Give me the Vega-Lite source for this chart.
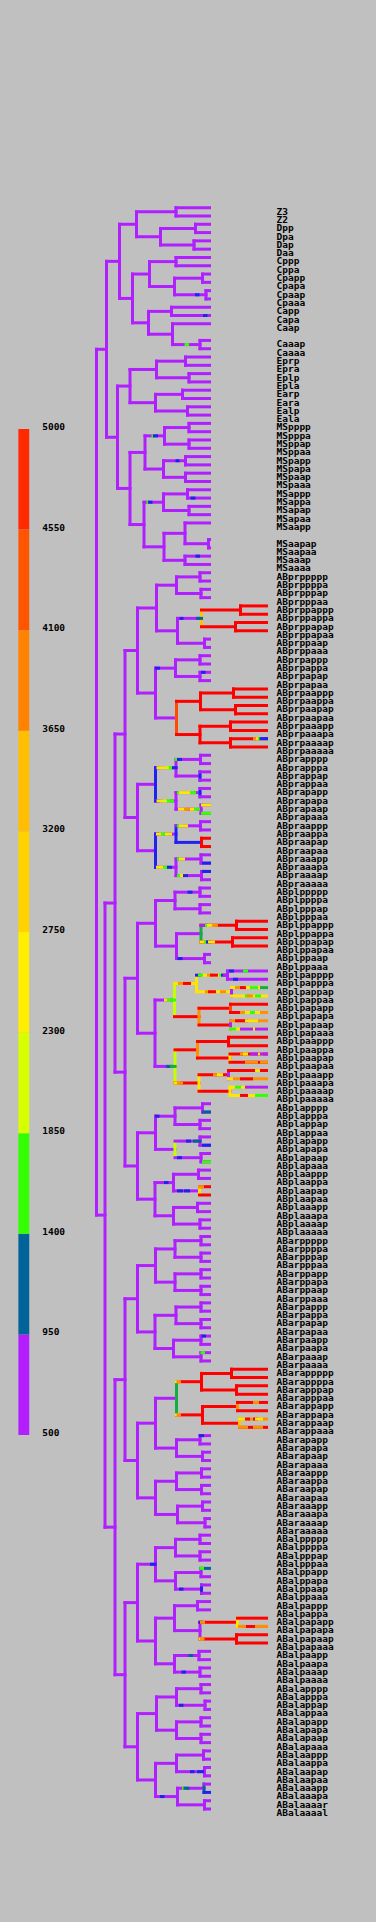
{
"$schema": "https://vega.github.io/schema/vega-lite/v6.json",
"background": "#c0c0c0",
"padding": 0,
"spacing": 0,
"resolve": {"scale": {"color": "independent"}},
"config": {"view": {"stroke": null}},
"datasets": {
"bands": [
{"lo":500,"hi":950},{"lo":950,"hi":1400},{"lo":1400,"hi":1850},{"lo":1850,"hi":2300},{"lo":2300,"hi":2750},
{"lo":2750,"hi":3200},{"lo":3200,"hi":3650},{"lo":3650,"hi":4100},{"lo":4100,"hi":4550},{"lo":4550,"hi":5000}],
"ticks": [{"v":500},{"v":950},{"v":1400},{"v":1850},{"v":2300},{"v":2750},{"v":3200},{"v":3650},{"v":4100},{"v":4550},{"v":5000}],
"labels": [
{"name":"Z3","slot":0},{"name":"Z2","slot":1},{"name":"Dpp","slot":2},{"name":"Dpa","slot":3},{"name":"Dap","slot":4},{"name":"Daa","slot":5},
{"name":"Cppp","slot":6},{"name":"Cppa","slot":7},{"name":"Cpapp","slot":8},{"name":"Cpapa","slot":9},{"name":"Cpaap","slot":10},{"name":"Cpaaa","slot":11},
{"name":"Capp","slot":12},{"name":"Capa","slot":13},{"name":"Caap","slot":14},{"name":"Caaap","slot":16},{"name":"Caaaa","slot":17},
{"name":"Eprp","slot":18},{"name":"Epra","slot":19},{"name":"Eplp","slot":20},{"name":"Epla","slot":21},{"name":"Earp","slot":22},{"name":"Eara","slot":23},{"name":"Ealp","slot":24},{"name":"Eala","slot":25},
{"name":"MSpppp","slot":26},{"name":"MSpppa","slot":27},{"name":"MSppap","slot":28},{"name":"MSppaa","slot":29},{"name":"MSpapp","slot":30},{"name":"MSpapa","slot":31},{"name":"MSpaap","slot":32},{"name":"MSpaaa","slot":33},
{"name":"MSappp","slot":34},{"name":"MSappa","slot":35},{"name":"MSapap","slot":36},{"name":"MSapaa","slot":37},{"name":"MSaapp","slot":38},{"name":"MSaapap","slot":40},{"name":"MSaapaa","slot":41},{"name":"MSaaap","slot":42},{"name":"MSaaaa","slot":43},
{"name":"ABprppppp","slot":44},{"name":"ABprppppa","slot":45},{"name":"ABprpppap","slot":46},{"name":"ABprpppaa","slot":47},{"name":"ABprppappp","slot":48},{"name":"ABprppappa","slot":49},{"name":"ABprppapap","slot":50},{"name":"ABprppapaa","slot":51},
{"name":"ABprppaap","slot":52},{"name":"ABprppaaa","slot":53},{"name":"ABprpappp","slot":54},{"name":"ABprpappa","slot":55},{"name":"ABprpapap","slot":56},{"name":"ABprpapaa","slot":57},
{"name":"ABprpaappp","slot":58},{"name":"ABprpaappa","slot":59},{"name":"ABprpaapap","slot":60},{"name":"ABprpaapaa","slot":61},{"name":"ABprpaaapp","slot":62},{"name":"ABprpaaapa","slot":63},{"name":"ABprpaaaap","slot":64},{"name":"ABprpaaaaa","slot":65},
{"name":"ABprapppp","slot":66},{"name":"ABprapppa","slot":67},{"name":"ABprappap","slot":68},{"name":"ABprappaa","slot":69},{"name":"ABprapapp","slot":70},{"name":"ABprapapa","slot":71},{"name":"ABprapaap","slot":72},{"name":"ABprapaaa","slot":73},
{"name":"ABpraappp","slot":74},{"name":"ABpraappa","slot":75},{"name":"ABpraapap","slot":76},{"name":"ABpraapaa","slot":77},{"name":"ABpraaapp","slot":78},{"name":"ABpraaapa","slot":79},{"name":"ABpraaaap","slot":80},{"name":"ABpraaaaa","slot":81},
{"name":"ABplppppp","slot":82},{"name":"ABplppppa","slot":83},{"name":"ABplpppap","slot":84},{"name":"ABplpppaa","slot":85},{"name":"ABplppappp","slot":86},{"name":"ABplppappa","slot":87},{"name":"ABplppapap","slot":88},{"name":"ABplppapaa","slot":89},
{"name":"ABplppaap","slot":90},{"name":"ABplppaaa","slot":91},{"name":"ABplpapppp","slot":92},{"name":"ABplpapppa","slot":93},{"name":"ABplpappap","slot":94},{"name":"ABplpappaa","slot":95},{"name":"ABplpapapp","slot":96},{"name":"ABplpapapa","slot":97},
{"name":"ABplpapaap","slot":98},{"name":"ABplpapaaa","slot":99},{"name":"ABplpaappp","slot":100},{"name":"ABplpaappa","slot":101},{"name":"ABplpaapap","slot":102},{"name":"ABplpaapaa","slot":103},{"name":"ABplpaaapp","slot":104},{"name":"ABplpaaapa","slot":105},
{"name":"ABplpaaaap","slot":106},{"name":"ABplpaaaaa","slot":107},{"name":"ABplapppp","slot":108},{"name":"ABplapppa","slot":109},{"name":"ABplappap","slot":110},{"name":"ABplappaa","slot":111},{"name":"ABplapapp","slot":112},{"name":"ABplapapa","slot":113},
{"name":"ABplapaap","slot":114},{"name":"ABplapaaa","slot":115},{"name":"ABplaappp","slot":116},{"name":"ABplaappa","slot":117},{"name":"ABplaapap","slot":118},{"name":"ABplaapaa","slot":119},{"name":"ABplaaapp","slot":120},{"name":"ABplaaapa","slot":121},
{"name":"ABplaaaap","slot":122},{"name":"ABplaaaaa","slot":123},
{"name":"ABarppppp","slot":124},{"name":"ABarppppa","slot":125},{"name":"ABarpppap","slot":126},{"name":"ABarpppaa","slot":127},{"name":"ABarppapp","slot":128},{"name":"ABarppapa","slot":129},{"name":"ABarppaap","slot":130},{"name":"ABarppaaa","slot":131},
{"name":"ABarpappp","slot":132},{"name":"ABarpappa","slot":133},{"name":"ABarpapap","slot":134},{"name":"ABarpapaa","slot":135},{"name":"ABarpaapp","slot":136},{"name":"ABarpaapa","slot":137},{"name":"ABarpaaap","slot":138},{"name":"ABarpaaaa","slot":139},
{"name":"ABarappppp","slot":140},{"name":"ABarappppa","slot":141},{"name":"ABarapppap","slot":142},{"name":"ABarapppaa","slot":143},{"name":"ABarappapp","slot":144},{"name":"ABarappapa","slot":145},{"name":"ABarappaap","slot":146},{"name":"ABarappaaa","slot":147},
{"name":"ABarapapp","slot":148},{"name":"ABarapapa","slot":149},{"name":"ABarapaap","slot":150},{"name":"ABarapaaa","slot":151},{"name":"ABaraappp","slot":152},{"name":"ABaraappa","slot":153},{"name":"ABaraapap","slot":154},{"name":"ABaraapaa","slot":155},
{"name":"ABaraaapp","slot":156},{"name":"ABaraaapa","slot":157},{"name":"ABaraaaap","slot":158},{"name":"ABaraaaaa","slot":159},
{"name":"ABalppppp","slot":160},{"name":"ABalppppa","slot":161},{"name":"ABalpppap","slot":162},{"name":"ABalpppaa","slot":163},{"name":"ABalppapp","slot":164},{"name":"ABalppapa","slot":165},{"name":"ABalppaap","slot":166},{"name":"ABalppaaa","slot":167},
{"name":"ABalpappp","slot":168},{"name":"ABalpappa","slot":169},{"name":"ABalpapapp","slot":170},{"name":"ABalpapapa","slot":171},{"name":"ABalpapaap","slot":172},{"name":"ABalpapaaa","slot":173},{"name":"ABalpaapp","slot":174},{"name":"ABalpaapa","slot":175},
{"name":"ABalpaaap","slot":176},{"name":"ABalpaaaa","slot":177},{"name":"ABalapppp","slot":178},{"name":"ABalapppa","slot":179},{"name":"ABalappap","slot":180},{"name":"ABalappaa","slot":181},{"name":"ABalapapp","slot":182},{"name":"ABalapapa","slot":183},
{"name":"ABalapaap","slot":184},{"name":"ABalapaaa","slot":185},{"name":"ABalaappp","slot":186},{"name":"ABalaappa","slot":187},{"name":"ABalaapap","slot":188},{"name":"ABalaapaa","slot":189},{"name":"ABalaaapp","slot":190},{"name":"ABalaaapa","slot":191},
{"name":"ABalaaaar","slot":192},{"name":"ABalaaaal","slot":193}],
"tree": [
{"x":0,"x2":0,"y":17.07,"y2":121.42,"c":"p"},
{"x":0,"x2":10,"y":17.07,"y2":17.07,"c":"p"},
{"x":10,"x2":10,"y":6.469,"y2":27.67,"c":"p"},
{"x":10,"x2":23,"y":6.469,"y2":6.469,"c":"p"},
{"x":23,"x2":23,"y":2,"y2":10.9375,"c":"p"},
{"x":23,"x2":40,"y":2,"y2":2,"c":"p"},
{"x":40,"x2":40,"y":0.5,"y2":3.5,"c":"p"},
{"x":40,"x2":79.5,"y":0.5,"y2":0.5,"c":"p"},
{"x":79.5,"x2":79.5,"y":0,"y2":1,"c":"p"},
{"x":79.5,"x2":113,"y":0,"y2":0,"c":"p"},
{"x":79.5,"x2":113,"y":1,"y2":1,"c":"p"},
{"x":40,"x2":64,"y":3.5,"y2":3.5,"c":"p"},
{"x":64,"x2":64,"y":2.5,"y2":4.5,"c":"p"},
{"x":64,"x2":99,"y":2.5,"y2":2.5,"c":"p"},
{"x":99,"x2":99,"y":2,"y2":3,"c":"p"},
{"x":99,"x2":113,"y":2,"y2":2,"c":"p"},
{"x":99,"x2":113,"y":3,"y2":3,"c":"p"},
{"x":64,"x2":97.5,"y":4.5,"y2":4.5,"c":"p"},
{"x":97.5,"x2":97.5,"y":4,"y2":5,"c":"p"},
{"x":97.5,"x2":113,"y":4,"y2":4,"c":"p"},
{"x":97.5,"x2":113,"y":5,"y2":5,"c":"p"},
{"x":23,"x2":36,"y":10.9375,"y2":10.9375,"c":"p"},
{"x":36,"x2":36,"y":8,"y2":13.875,"c":"p"},
{"x":36,"x2":53,"y":8,"y2":8,"c":"p"},
{"x":53,"x2":53,"y":6.5,"y2":9.5,"c":"p"},
{"x":53,"x2":79.5,"y":6.5,"y2":6.5,"c":"p"},
{"x":79.5,"x2":79.5,"y":6,"y2":7,"c":"p"},
{"x":79.5,"x2":113,"y":6,"y2":6,"c":"p"},
{"x":79.5,"x2":113,"y":7,"y2":7,"c":"p"},
{"x":53,"x2":78,"y":9.5,"y2":9.5,"c":"p"},
{"x":78,"x2":78,"y":8.5,"y2":10.5,"c":"p"},
{"x":78,"x2":106,"y":8.5,"y2":8.5,"c":"p"},
{"x":106,"x2":106,"y":8,"y2":9,"c":"p"},
{"x":106,"x2":113,"y":8,"y2":8,"c":"p"},
{"x":106,"x2":113,"y":9,"y2":9,"c":"p"},
{"x":78,"x2":109.5,"y":10.5,"y2":10.5,"c":"p"},
{"x":109.5,"x2":109.5,"y":10,"y2":11,"c":"p"},
{"x":109.5,"x2":113,"y":10,"y2":10,"c":"p"},
{"x":109.5,"x2":113,"y":11,"y2":11,"c":"p"},
{"x":36,"x2":52,"y":13.875,"y2":13.875,"c":"p"},
{"x":52,"x2":52,"y":12.5,"y2":15.25,"c":"p"},
{"x":52,"x2":75,"y":12.5,"y2":12.5,"c":"p"},
{"x":75,"x2":75,"y":12,"y2":13,"c":"p"},
{"x":75,"x2":113,"y":12,"y2":12,"c":"p"},
{"x":75,"x2":113,"y":13,"y2":13,"c":"p"},
{"x":52,"x2":76,"y":15.25,"y2":15.25,"c":"p"},
{"x":76,"x2":76,"y":14,"y2":16.5,"c":"p"},
{"x":76,"x2":113,"y":14,"y2":14,"c":"p"},
{"x":76,"x2":103.5,"y":16.5,"y2":16.5,"c":"p"},
{"x":103.5,"x2":103.5,"y":16,"y2":17,"c":"p"},
{"x":103.5,"x2":113,"y":16,"y2":16,"c":"p"},
{"x":103.5,"x2":113,"y":17,"y2":17,"c":"p"},
{"x":10,"x2":21,"y":27.67,"y2":27.67,"c":"p"},
{"x":21,"x2":21,"y":21.5,"y2":33.84,"c":"p"},
{"x":21,"x2":33.5,"y":21.5,"y2":21.5,"c":"p"},
{"x":33.5,"x2":33.5,"y":19.5,"y2":23.5,"c":"p"},
{"x":33.5,"x2":60,"y":19.5,"y2":19.5,"c":"p"},
{"x":60,"x2":60,"y":18.5,"y2":20.5,"c":"p"},
{"x":60,"x2":89,"y":18.5,"y2":18.5,"c":"p"},
{"x":89,"x2":89,"y":18,"y2":19,"c":"p"},
{"x":89,"x2":113,"y":18,"y2":18,"c":"p"},
{"x":89,"x2":113,"y":19,"y2":19,"c":"p"},
{"x":60,"x2":92.5,"y":20.5,"y2":20.5,"c":"p"},
{"x":92.5,"x2":92.5,"y":20,"y2":21,"c":"p"},
{"x":92.5,"x2":113,"y":20,"y2":20,"c":"p"},
{"x":92.5,"x2":113,"y":21,"y2":21,"c":"p"},
{"x":33.5,"x2":59,"y":23.5,"y2":23.5,"c":"p"},
{"x":59,"x2":59,"y":22.5,"y2":24.5,"c":"p"},
{"x":59,"x2":86,"y":22.5,"y2":22.5,"c":"p"},
{"x":86,"x2":86,"y":22,"y2":23,"c":"p"},
{"x":86,"x2":113,"y":22,"y2":22,"c":"p"},
{"x":86,"x2":113,"y":23,"y2":23,"c":"p"},
{"x":59,"x2":91,"y":24.5,"y2":24.5,"c":"p"},
{"x":91,"x2":91,"y":24,"y2":25,"c":"p"},
{"x":91,"x2":113,"y":24,"y2":24,"c":"p"},
{"x":91,"x2":113,"y":25,"y2":25,"c":"p"},
{"x":21,"x2":33.5,"y":33.84,"y2":33.84,"c":"p"},
{"x":33.5,"x2":33.5,"y":29.5,"y2":38.19,"c":"p"},
{"x":33.5,"x2":48.5,"y":29.5,"y2":29.5,"c":"p"},
{"x":48.5,"x2":48.5,"y":27.5,"y2":31.5,"c":"p"},
{"x":48.5,"x2":68,"y":27.5,"y2":27.5,"c":"p"},
{"x":68,"x2":68,"y":26.5,"y2":28.5,"c":"p"},
{"x":68,"x2":92.5,"y":26.5,"y2":26.5,"c":"p"},
{"x":92.5,"x2":92.5,"y":26,"y2":27,"c":"p"},
{"x":92.5,"x2":113,"y":26,"y2":26,"c":"p"},
{"x":92.5,"x2":113,"y":27,"y2":27,"c":"p"},
{"x":68,"x2":92.5,"y":28.5,"y2":28.5,"c":"p"},
{"x":92.5,"x2":92.5,"y":28,"y2":29,"c":"p"},
{"x":92.5,"x2":113,"y":28,"y2":28,"c":"p"},
{"x":92.5,"x2":113,"y":29,"y2":29,"c":"p"},
{"x":48.5,"x2":67,"y":31.5,"y2":31.5,"c":"p"},
{"x":67,"x2":67,"y":30.5,"y2":32.5,"c":"p"},
{"x":67,"x2":89,"y":30.5,"y2":30.5,"c":"p"},
{"x":89,"x2":89,"y":30,"y2":31,"c":"p"},
{"x":89,"x2":113,"y":30,"y2":30,"c":"p"},
{"x":89,"x2":113,"y":31,"y2":31,"c":"p"},
{"x":67,"x2":89,"y":32.5,"y2":32.5,"c":"p"},
{"x":89,"x2":89,"y":32,"y2":33,"c":"p"},
{"x":89,"x2":113,"y":32,"y2":32,"c":"p"},
{"x":89,"x2":113,"y":33,"y2":33,"c":"p"},
{"x":33.5,"x2":47.5,"y":38.19,"y2":38.19,"c":"p"},
{"x":47.5,"x2":47.5,"y":35.5,"y2":40.875,"c":"p"},
{"x":47.5,"x2":67,"y":35.5,"y2":35.5,"c":"p"},
{"x":67,"x2":67,"y":34.5,"y2":36.5,"c":"p"},
{"x":67,"x2":91,"y":34.5,"y2":34.5,"c":"p"},
{"x":91,"x2":91,"y":34,"y2":35,"c":"p"},
{"x":91,"x2":113,"y":34,"y2":34,"c":"p"},
{"x":91,"x2":113,"y":35,"y2":35,"c":"p"},
{"x":67,"x2":92.5,"y":36.5,"y2":36.5,"c":"p"},
{"x":92.5,"x2":92.5,"y":36,"y2":37,"c":"p"},
{"x":92.5,"x2":113,"y":36,"y2":36,"c":"p"},
{"x":92.5,"x2":113,"y":37,"y2":37,"c":"p"},
{"x":47.5,"x2":67.5,"y":40.875,"y2":40.875,"c":"p"},
{"x":67.5,"x2":67.5,"y":39.25,"y2":42.5,"c":"p"},
{"x":67.5,"x2":88.5,"y":39.25,"y2":39.25,"c":"p"},
{"x":88.5,"x2":88.5,"y":38,"y2":40.5,"c":"p"},
{"x":88.5,"x2":113,"y":38,"y2":38,"c":"p"},
{"x":88.5,"x2":112,"y":40.5,"y2":40.5,"c":"p"},
{"x":112,"x2":112,"y":40,"y2":41,"c":"p"},
{"x":112,"x2":113,"y":40,"y2":40,"c":"p"},
{"x":112,"x2":113,"y":41,"y2":41,"c":"p"},
{"x":67.5,"x2":88.5,"y":42.5,"y2":42.5,"c":"p"},
{"x":88.5,"x2":88.5,"y":42,"y2":43,"c":"p"},
{"x":88.5,"x2":113,"y":42,"y2":42,"c":"p"},
{"x":88.5,"x2":113,"y":43,"y2":43,"c":"p"},
{"x":0,"x2":8.5,"y":121.42,"y2":121.42,"c":"p"},
{"x":8.5,"x2":8.5,"y":83.81,"y2":159.03,"c":"p"},
{"x":8.5,"x2":18.5,"y":83.81,"y2":83.81,"c":"p"},
{"x":18.5,"x2":18.5,"y":63.44,"y2":104.19,"c":"p"},
{"x":18.5,"x2":28.5,"y":63.44,"y2":63.44,"c":"p"},
{"x":28.5,"x2":28.5,"y":53.375,"y2":73.5,"c":"p"},
{"x":28.5,"x2":41,"y":53.375,"y2":53.375,"c":"p"},
{"x":41,"x2":41,"y":48.25,"y2":58.5,"c":"p"},
{"x":41,"x2":60,"y":48.25,"y2":48.25,"c":"p"},
{"x":60,"x2":60,"y":45.5,"y2":51,"c":"p"},
{"x":60,"x2":80,"y":45.5,"y2":45.5,"c":"p"},
{"x":80,"x2":80,"y":44.5,"y2":46.5,"c":"p"},
{"x":80,"x2":103.5,"y":44.5,"y2":44.5,"c":"p"},
{"x":103.5,"x2":103.5,"y":44,"y2":45,"c":"p"},
{"x":103.5,"x2":113,"y":44,"y2":44,"c":"p"},
{"x":103.5,"x2":113,"y":45,"y2":45,"c":"p"},
{"x":80,"x2":104.5,"y":46.5,"y2":46.5,"c":"p"},
{"x":104.5,"x2":104.5,"y":46,"y2":47,"c":"p"},
{"x":104.5,"x2":113,"y":46,"y2":46,"c":"p"},
{"x":104.5,"x2":113,"y":47,"y2":47,"c":"p"},
{"x":60,"x2":81,"y":51,"y2":51,"c":"p"},
{"x":81,"x2":81,"y":49.5,"y2":52.5,"c":"p"},
{"x":81,"x2":105,"y":49.5,"y2":49.5,"c":"p"},
{"x":105,"x2":105,"y":48.5,"y2":50.5,"c":"gd"},
{"x":105,"x2":144,"y":48.5,"y2":48.5,"c":"r"},
{"x":144,"x2":144,"y":48,"y2":49,"c":"r"},
{"x":144,"x2":170,"y":48,"y2":48,"c":"r"},
{"x":144,"x2":170,"y":49,"y2":49,"c":"r"},
{"x":105,"x2":139,"y":50.5,"y2":50.5,"c":"r"},
{"x":139,"x2":139,"y":50,"y2":51,"c":"r"},
{"x":139,"x2":170,"y":50,"y2":50,"c":"r"},
{"x":139,"x2":170,"y":51,"y2":51,"c":"r"},
{"x":81,"x2":108,"y":52.5,"y2":52.5,"c":"p"},
{"x":108,"x2":108,"y":52,"y2":53,"c":"p"},
{"x":108,"x2":113,"y":52,"y2":52,"c":"p"},
{"x":108,"x2":113,"y":53,"y2":53,"c":"p"},
{"x":41,"x2":59,"y":58.5,"y2":58.5,"c":"p"},
{"x":59,"x2":59,"y":55.5,"y2":61.5,"c":"p"},
{"x":59,"x2":79,"y":55.5,"y2":55.5,"c":"p"},
{"x":79,"x2":79,"y":54.5,"y2":56.5,"c":"p"},
{"x":79,"x2":103.5,"y":54.5,"y2":54.5,"c":"p"},
{"x":103.5,"x2":103.5,"y":54,"y2":55,"c":"p"},
{"x":103.5,"x2":113,"y":54,"y2":54,"c":"p"},
{"x":103.5,"x2":113,"y":55,"y2":55,"c":"p"},
{"x":79,"x2":103.5,"y":56.5,"y2":56.5,"c":"p"},
{"x":103.5,"x2":103.5,"y":56,"y2":57,"c":"p"},
{"x":103.5,"x2":113,"y":56,"y2":56,"c":"p"},
{"x":103.5,"x2":113,"y":57,"y2":57,"c":"p"},
{"x":59,"x2":80,"y":61.5,"y2":61.5,"c":"p"},
{"x":80,"x2":80,"y":59.5,"y2":63.5,"c":"or"},
{"x":80,"x2":104,"y":59.5,"y2":59.5,"c":"r"},
{"x":104,"x2":104,"y":58.5,"y2":60.5,"c":"r"},
{"x":104,"x2":137,"y":58.5,"y2":58.5,"c":"r"},
{"x":137,"x2":137,"y":58,"y2":59,"c":"r"},
{"x":137,"x2":170,"y":58,"y2":58,"c":"r"},
{"x":137,"x2":170,"y":59,"y2":59,"c":"r"},
{"x":104,"x2":139,"y":60.5,"y2":60.5,"c":"r"},
{"x":139,"x2":139,"y":60,"y2":61,"c":"r"},
{"x":139,"x2":170,"y":60,"y2":60,"c":"r"},
{"x":139,"x2":170,"y":61,"y2":61,"c":"r"},
{"x":80,"x2":103.5,"y":63.5,"y2":63.5,"c":"r"},
{"x":103.5,"x2":103.5,"y":62.5,"y2":64.5,"c":"r"},
{"x":103.5,"x2":134,"y":62.5,"y2":62.5,"c":"r"},
{"x":134,"x2":134,"y":62,"y2":63,"c":"r"},
{"x":134,"x2":170,"y":62,"y2":62,"c":"r"},
{"x":134,"x2":170,"y":63,"y2":63,"c":"r"},
{"x":103.5,"x2":134,"y":64.5,"y2":64.5,"c":"r"},
{"x":134,"x2":134,"y":64,"y2":65,"c":"r"},
{"x":134,"x2":170,"y":64,"y2":64,"c":"r"},
{"x":134,"x2":170,"y":65,"y2":65,"c":"r"},
{"x":28.5,"x2":41,"y":73.5,"y2":73.5,"c":"p"},
{"x":41,"x2":41,"y":69.5,"y2":77.5,"c":"p"},
{"x":41,"x2":59,"y":69.5,"y2":69.5,"c":"p"},
{"x":59,"x2":59,"y":67.5,"y2":71.5,"c":"b"},
{"x":59,"x2":79.5,"y":67.5,"y2":67.5,"c":"p"},
{"x":79.5,"x2":79.5,"y":66.5,"y2":68.5,"c":"p"},
{"x":79.5,"x2":104,"y":66.5,"y2":66.5,"c":"p"},
{"x":104,"x2":104,"y":66,"y2":67,"c":"p"},
{"x":104,"x2":113,"y":66,"y2":66,"c":"p"},
{"x":104,"x2":113,"y":67,"y2":67,"c":"p"},
{"x":79.5,"x2":103.5,"y":68.5,"y2":68.5,"c":"p"},
{"x":103.5,"x2":103.5,"y":68,"y2":69,"c":"b"},
{"x":103.5,"x2":113,"y":68,"y2":68,"c":"p"},
{"x":103.5,"x2":113,"y":69,"y2":69,"c":"p"},
{"x":59,"x2":79.5,"y":71.5,"y2":71.5,"c":"p"},
{"x":79.5,"x2":79.5,"y":70.5,"y2":72.5,"c":"p"},
{"x":79.5,"x2":103.5,"y":70.5,"y2":70.5,"c":"p"},
{"x":103.5,"x2":103.5,"y":70,"y2":71,"c":"b"},
{"x":103.5,"x2":113,"y":70,"y2":70,"c":"p"},
{"x":103.5,"x2":113,"y":71,"y2":71,"c":"p"},
{"x":79.5,"x2":104.5,"y":72.5,"y2":72.5,"c":"p"},
{"x":104.5,"x2":104.5,"y":72,"y2":73,"c":"p"},
{"x":104.5,"x2":113,"y":72,"y2":72,"c":"p"},
{"x":104.5,"x2":113,"y":73,"y2":73,"c":"p"},
{"x":41,"x2":59,"y":77.5,"y2":77.5,"c":"p"},
{"x":59,"x2":59,"y":75.5,"y2":79.5,"c":"b"},
{"x":59,"x2":79.5,"y":75.5,"y2":75.5,"c":"p"},
{"x":79.5,"x2":79.5,"y":74.5,"y2":76.5,"c":"b"},
{"x":79.5,"x2":104,"y":74.5,"y2":74.5,"c":"p"},
{"x":104,"x2":104,"y":74,"y2":75,"c":"p"},
{"x":104,"x2":113,"y":74,"y2":74,"c":"p"},
{"x":104,"x2":113,"y":75,"y2":75,"c":"p"},
{"x":79.5,"x2":105,"y":76.5,"y2":76.5,"c":"b"},
{"x":105,"x2":105,"y":76,"y2":77,"c":"r"},
{"x":105,"x2":113,"y":76,"y2":76,"c":"r"},
{"x":105,"x2":113,"y":77,"y2":77,"c":"r"},
{"x":59,"x2":79.5,"y":79.5,"y2":79.5,"c":"p"},
{"x":79.5,"x2":79.5,"y":78.5,"y2":80.5,"c":"p"},
{"x":79.5,"x2":104.5,"y":78.5,"y2":78.5,"c":"p"},
{"x":104.5,"x2":104.5,"y":78,"y2":79,"c":"p"},
{"x":104.5,"x2":113,"y":78,"y2":78,"c":"p"},
{"x":104.5,"x2":113,"y":79,"y2":79,"c":"p"},
{"x":79.5,"x2":105,"y":80.5,"y2":80.5,"c":"p"},
{"x":105,"x2":105,"y":80,"y2":81,"c":"p"},
{"x":105,"x2":113,"y":80,"y2":80,"c":"p"},
{"x":105,"x2":113,"y":81,"y2":81,"c":"p"},
{"x":18.5,"x2":28.5,"y":104.19,"y2":104.19,"c":"p"},
{"x":28.5,"x2":28.5,"y":92.875,"y2":115.5,"c":"p"},
{"x":28.5,"x2":41,"y":92.875,"y2":92.875,"c":"p"},
{"x":41,"x2":41,"y":86.25,"y2":99.5,"c":"p"},
{"x":41,"x2":59,"y":86.25,"y2":86.25,"c":"p"},
{"x":59,"x2":59,"y":83.5,"y2":89,"c":"p"},
{"x":59,"x2":78.5,"y":83.5,"y2":83.5,"c":"p"},
{"x":78.5,"x2":78.5,"y":82.5,"y2":84.5,"c":"p"},
{"x":78.5,"x2":103.5,"y":82.5,"y2":82.5,"c":"p"},
{"x":103.5,"x2":103.5,"y":82,"y2":83,"c":"p"},
{"x":103.5,"x2":113,"y":82,"y2":82,"c":"p"},
{"x":103.5,"x2":113,"y":83,"y2":83,"c":"p"},
{"x":78.5,"x2":103.5,"y":84.5,"y2":84.5,"c":"p"},
{"x":103.5,"x2":103.5,"y":84,"y2":85,"c":"p"},
{"x":103.5,"x2":113,"y":84,"y2":84,"c":"p"},
{"x":103.5,"x2":113,"y":85,"y2":85,"c":"p"},
{"x":59,"x2":80,"y":89,"y2":89,"c":"p"},
{"x":80,"x2":80,"y":87.5,"y2":90.5,"c":"p"},
{"x":80,"x2":104.5,"y":87.5,"y2":87.5,"c":"p"},
{"x":104.5,"x2":104.5,"y":86.5,"y2":88.5,"c":"g"},
{"x":104.5,"x2":140,"y":86.5,"y2":86.5,"c":"r"},
{"x":140,"x2":140,"y":86,"y2":87,"c":"r"},
{"x":140,"x2":170,"y":86,"y2":86,"c":"r"},
{"x":140,"x2":170,"y":87,"y2":87,"c":"r"},
{"x":104.5,"x2":136,"y":88.5,"y2":88.5,"c":"r"},
{"x":136,"x2":136,"y":88,"y2":89,"c":"r"},
{"x":136,"x2":170,"y":88,"y2":88,"c":"r"},
{"x":136,"x2":170,"y":89,"y2":89,"c":"r"},
{"x":80,"x2":108,"y":90.5,"y2":90.5,"c":"p"},
{"x":108,"x2":108,"y":90,"y2":91,"c":"p"},
{"x":108,"x2":113,"y":90,"y2":90,"c":"p"},
{"x":108,"x2":113,"y":91,"y2":91,"c":"p"},
{"x":41,"x2":58.5,"y":99.5,"y2":99.5,"c":"p"},
{"x":58.5,"x2":58.5,"y":95.5,"y2":103.5,"c":"p"},
{"x":58.5,"x2":78,"y":95.5,"y2":95.5,"c":"p"},
{"x":78,"x2":78,"y":93.5,"y2":97.5,"c":"yg"},
{"x":78,"x2":100,"y":93.5,"y2":93.5,"c":"y"},
{"x":100,"x2":100,"y":92.5,"y2":94.5,"c":"y"},
{"x":100,"x2":131,"y":92.5,"y2":92.5,"c":"y"},
{"x":131,"x2":131,"y":92,"y2":93,"c":"p"},
{"x":131,"x2":170,"y":92,"y2":92,"c":"p"},
{"x":131,"x2":170,"y":93,"y2":93,"c":"p"},
{"x":100,"x2":135,"y":94.5,"y2":94.5,"c":"y"},
{"x":135,"x2":135,"y":94,"y2":95,"c":"p"},
{"x":135,"x2":170,"y":94,"y2":94,"c":"y"},
{"x":135,"x2":170,"y":95,"y2":95,"c":"y"},
{"x":78,"x2":102.5,"y":97.5,"y2":97.5,"c":"r"},
{"x":102.5,"x2":102.5,"y":96.5,"y2":98.5,"c":"o"},
{"x":102.5,"x2":134,"y":96.5,"y2":96.5,"c":"r"},
{"x":134,"x2":134,"y":96,"y2":97,"c":"or"},
{"x":134,"x2":170,"y":96,"y2":96,"c":"r"},
{"x":134,"x2":170,"y":97,"y2":97,"c":"r"},
{"x":102.5,"x2":134,"y":98.5,"y2":98.5,"c":"r"},
{"x":134,"x2":134,"y":98,"y2":99,"c":"p"},
{"x":134,"x2":170,"y":98,"y2":98,"c":"o"},
{"x":134,"x2":170,"y":99,"y2":99,"c":"y"},
{"x":58.5,"x2":78.5,"y":103.5,"y2":103.5,"c":"p"},
{"x":78.5,"x2":78.5,"y":101.5,"y2":105.5,"c":"yg"},
{"x":78.5,"x2":101,"y":101.5,"y2":101.5,"c":"r"},
{"x":101,"x2":101,"y":100.5,"y2":102.5,"c":"o"},
{"x":101,"x2":132,"y":100.5,"y2":100.5,"c":"r"},
{"x":132,"x2":132,"y":100,"y2":101,"c":"r"},
{"x":132,"x2":170,"y":100,"y2":100,"c":"r"},
{"x":132,"x2":170,"y":101,"y2":101,"c":"r"},
{"x":101,"x2":133.5,"y":102.5,"y2":102.5,"c":"r"},
{"x":133.5,"x2":133.5,"y":102,"y2":103,"c":"y"},
{"x":133.5,"x2":170,"y":102,"y2":102,"c":"r"},
{"x":133.5,"x2":170,"y":103,"y2":103,"c":"r"},
{"x":78.5,"x2":102.5,"y":105.5,"y2":105.5,"c":"r"},
{"x":102.5,"x2":102.5,"y":104.5,"y2":106.5,"c":"y"},
{"x":102.5,"x2":132,"y":104.5,"y2":104.5,"c":"r"},
{"x":132,"x2":132,"y":104,"y2":105,"c":"p"},
{"x":132,"x2":170,"y":104,"y2":104,"c":"r"},
{"x":132,"x2":170,"y":105,"y2":105,"c":"o"},
{"x":102.5,"x2":133.5,"y":106.5,"y2":106.5,"c":"r"},
{"x":133.5,"x2":133.5,"y":106,"y2":107,"c":"y"},
{"x":133.5,"x2":170,"y":106,"y2":106,"c":"y"},
{"x":133.5,"x2":170,"y":107,"y2":107,"c":"y"},
{"x":28.5,"x2":41,"y":115.5,"y2":115.5,"c":"p"},
{"x":41,"x2":41,"y":111.5,"y2":119.5,"c":"p"},
{"x":41,"x2":59,"y":111.5,"y2":111.5,"c":"p"},
{"x":59,"x2":59,"y":109.5,"y2":113.5,"c":"p"},
{"x":59,"x2":78.5,"y":109.5,"y2":109.5,"c":"p"},
{"x":78.5,"x2":78.5,"y":108.5,"y2":110.5,"c":"p"},
{"x":78.5,"x2":106,"y":108.5,"y2":108.5,"c":"p"},
{"x":106,"x2":106,"y":108,"y2":109,"c":"p"},
{"x":106,"x2":113,"y":108,"y2":108,"c":"p"},
{"x":106,"x2":113,"y":109,"y2":109,"c":"p"},
{"x":78.5,"x2":103.5,"y":110.5,"y2":110.5,"c":"p"},
{"x":103.5,"x2":103.5,"y":110,"y2":111,"c":"p"},
{"x":103.5,"x2":113,"y":110,"y2":110,"c":"p"},
{"x":103.5,"x2":113,"y":111,"y2":111,"c":"p"},
{"x":59,"x2":78.5,"y":113.5,"y2":113.5,"c":"p"},
{"x":78.5,"x2":78.5,"y":112.5,"y2":114.5,"c":"yg"},
{"x":78.5,"x2":103.5,"y":112.5,"y2":112.5,"c":"p"},
{"x":103.5,"x2":103.5,"y":112,"y2":113,"c":"p"},
{"x":103.5,"x2":113,"y":112,"y2":112,"c":"p"},
{"x":103.5,"x2":113,"y":113,"y2":113,"c":"p"},
{"x":78.5,"x2":104.5,"y":114.5,"y2":114.5,"c":"p"},
{"x":104.5,"x2":104.5,"y":114,"y2":115,"c":"p"},
{"x":104.5,"x2":113,"y":114,"y2":114,"c":"p"},
{"x":104.5,"x2":113,"y":115,"y2":115,"c":"p"},
{"x":41,"x2":58.5,"y":119.5,"y2":119.5,"c":"p"},
{"x":58.5,"x2":58.5,"y":117.5,"y2":121.5,"c":"p"},
{"x":58.5,"x2":77,"y":117.5,"y2":117.5,"c":"p"},
{"x":77,"x2":77,"y":116.5,"y2":118.5,"c":"p"},
{"x":77,"x2":102,"y":116.5,"y2":116.5,"c":"p"},
{"x":102,"x2":102,"y":116,"y2":117,"c":"p"},
{"x":102,"x2":113,"y":116,"y2":116,"c":"p"},
{"x":102,"x2":113,"y":117,"y2":117,"c":"p"},
{"x":77,"x2":103,"y":118.5,"y2":118.5,"c":"p"},
{"x":103,"x2":103,"y":118,"y2":119,"c":"y"},
{"x":103,"x2":113,"y":118,"y2":118,"c":"r"},
{"x":103,"x2":113,"y":119,"y2":119,"c":"r"},
{"x":58.5,"x2":77,"y":121.5,"y2":121.5,"c":"p"},
{"x":77,"x2":77,"y":120.5,"y2":122.5,"c":"p"},
{"x":77,"x2":101,"y":120.5,"y2":120.5,"c":"p"},
{"x":101,"x2":101,"y":120,"y2":121,"c":"p"},
{"x":101,"x2":113,"y":120,"y2":120,"c":"p"},
{"x":101,"x2":113,"y":121,"y2":121,"c":"p"},
{"x":77,"x2":103.5,"y":122.5,"y2":122.5,"c":"p"},
{"x":103.5,"x2":103.5,"y":122,"y2":123,"c":"p"},
{"x":103.5,"x2":113,"y":122,"y2":122,"c":"p"},
{"x":103.5,"x2":113,"y":123,"y2":123,"c":"p"},
{"x":8.5,"x2":18.5,"y":159.03,"y2":159.03,"c":"p"},
{"x":18.5,"x2":18.5,"y":141.25,"y2":176.81,"c":"p"},
{"x":18.5,"x2":28.5,"y":141.25,"y2":141.25,"c":"p"},
{"x":28.5,"x2":28.5,"y":131.5,"y2":151,"c":"p"},
{"x":28.5,"x2":41,"y":131.5,"y2":131.5,"c":"p"},
{"x":41,"x2":41,"y":127.5,"y2":135.5,"c":"p"},
{"x":41,"x2":59,"y":127.5,"y2":127.5,"c":"p"},
{"x":59,"x2":59,"y":125.5,"y2":129.5,"c":"p"},
{"x":59,"x2":78.5,"y":125.5,"y2":125.5,"c":"p"},
{"x":78.5,"x2":78.5,"y":124.5,"y2":126.5,"c":"p"},
{"x":78.5,"x2":104.5,"y":124.5,"y2":124.5,"c":"p"},
{"x":104.5,"x2":104.5,"y":124,"y2":125,"c":"p"},
{"x":104.5,"x2":113,"y":124,"y2":124,"c":"p"},
{"x":104.5,"x2":113,"y":125,"y2":125,"c":"p"},
{"x":78.5,"x2":104.5,"y":126.5,"y2":126.5,"c":"p"},
{"x":104.5,"x2":104.5,"y":126,"y2":127,"c":"p"},
{"x":104.5,"x2":113,"y":126,"y2":126,"c":"p"},
{"x":104.5,"x2":113,"y":127,"y2":127,"c":"p"},
{"x":59,"x2":78.5,"y":129.5,"y2":129.5,"c":"p"},
{"x":78.5,"x2":78.5,"y":128.5,"y2":130.5,"c":"p"},
{"x":78.5,"x2":104.5,"y":128.5,"y2":128.5,"c":"p"},
{"x":104.5,"x2":104.5,"y":128,"y2":129,"c":"p"},
{"x":104.5,"x2":113,"y":128,"y2":128,"c":"p"},
{"x":104.5,"x2":113,"y":129,"y2":129,"c":"p"},
{"x":78.5,"x2":104.5,"y":130.5,"y2":130.5,"c":"p"},
{"x":104.5,"x2":104.5,"y":130,"y2":131,"c":"p"},
{"x":104.5,"x2":113,"y":130,"y2":130,"c":"p"},
{"x":104.5,"x2":113,"y":131,"y2":131,"c":"p"},
{"x":41,"x2":58.5,"y":135.5,"y2":135.5,"c":"p"},
{"x":58.5,"x2":58.5,"y":133.5,"y2":137.5,"c":"p"},
{"x":58.5,"x2":79.5,"y":133.5,"y2":133.5,"c":"p"},
{"x":79.5,"x2":79.5,"y":132.5,"y2":134.5,"c":"p"},
{"x":79.5,"x2":104.5,"y":132.5,"y2":132.5,"c":"p"},
{"x":104.5,"x2":104.5,"y":132,"y2":133,"c":"p"},
{"x":104.5,"x2":113,"y":132,"y2":132,"c":"p"},
{"x":104.5,"x2":113,"y":133,"y2":133,"c":"p"},
{"x":79.5,"x2":104.5,"y":134.5,"y2":134.5,"c":"p"},
{"x":104.5,"x2":104.5,"y":134,"y2":135,"c":"p"},
{"x":104.5,"x2":113,"y":134,"y2":134,"c":"p"},
{"x":104.5,"x2":113,"y":135,"y2":135,"c":"p"},
{"x":58.5,"x2":77,"y":137.5,"y2":137.5,"c":"p"},
{"x":77,"x2":77,"y":136.5,"y2":138.5,"c":"p"},
{"x":77,"x2":104.5,"y":136.5,"y2":136.5,"c":"p"},
{"x":104.5,"x2":104.5,"y":136,"y2":137,"c":"p"},
{"x":104.5,"x2":113,"y":136,"y2":136,"c":"p"},
{"x":104.5,"x2":113,"y":137,"y2":137,"c":"p"},
{"x":77,"x2":104.5,"y":138.5,"y2":138.5,"c":"p"},
{"x":104.5,"x2":104.5,"y":138,"y2":139,"c":"p"},
{"x":104.5,"x2":113,"y":138,"y2":138,"c":"p"},
{"x":104.5,"x2":113,"y":139,"y2":139,"c":"p"},
{"x":28.5,"x2":41,"y":151,"y2":151,"c":"p"},
{"x":41,"x2":41,"y":146.5,"y2":155.5,"c":"p"},
{"x":41,"x2":59,"y":146.5,"y2":146.5,"c":"p"},
{"x":59,"x2":59,"y":143.5,"y2":149.5,"c":"p"},
{"x":59,"x2":80,"y":143.5,"y2":143.5,"c":"p"},
{"x":80,"x2":80,"y":141.5,"y2":145.5,"c":"g"},
{"x":80,"x2":105,"y":141.5,"y2":141.5,"c":"r"},
{"x":105,"x2":105,"y":140.5,"y2":142.5,"c":"r"},
{"x":105,"x2":135,"y":140.5,"y2":140.5,"c":"r"},
{"x":135,"x2":135,"y":140,"y2":141,"c":"r"},
{"x":135,"x2":170,"y":140,"y2":140,"c":"r"},
{"x":135,"x2":170,"y":141,"y2":141,"c":"r"},
{"x":105,"x2":140,"y":142.5,"y2":142.5,"c":"r"},
{"x":140,"x2":140,"y":142,"y2":143,"c":"r"},
{"x":140,"x2":170,"y":142,"y2":142,"c":"r"},
{"x":140,"x2":170,"y":143,"y2":143,"c":"r"},
{"x":80,"x2":106,"y":145.5,"y2":145.5,"c":"r"},
{"x":106,"x2":106,"y":144.5,"y2":146.5,"c":"r"},
{"x":106,"x2":141,"y":144.5,"y2":144.5,"c":"r"},
{"x":141,"x2":141,"y":144,"y2":145,"c":"o"},
{"x":141,"x2":170,"y":144,"y2":144,"c":"r"},
{"x":141,"x2":170,"y":145,"y2":145,"c":"r"},
{"x":106,"x2":143,"y":146.5,"y2":146.5,"c":"r"},
{"x":143,"x2":143,"y":146,"y2":147,"c":"gd"},
{"x":143,"x2":170,"y":146,"y2":146,"c":"o"},
{"x":143,"x2":170,"y":147,"y2":147,"c":"r"},
{"x":59,"x2":80,"y":149.5,"y2":149.5,"c":"p"},
{"x":80,"x2":80,"y":148.5,"y2":150.5,"c":"p"},
{"x":80,"x2":103.5,"y":148.5,"y2":148.5,"c":"p"},
{"x":103.5,"x2":103.5,"y":148,"y2":149,"c":"p"},
{"x":103.5,"x2":113,"y":148,"y2":148,"c":"p"},
{"x":103.5,"x2":113,"y":149,"y2":149,"c":"p"},
{"x":80,"x2":106,"y":150.5,"y2":150.5,"c":"p"},
{"x":106,"x2":106,"y":150,"y2":151,"c":"p"},
{"x":106,"x2":113,"y":150,"y2":150,"c":"p"},
{"x":106,"x2":113,"y":151,"y2":151,"c":"p"},
{"x":41,"x2":59,"y":155.5,"y2":155.5,"c":"p"},
{"x":59,"x2":59,"y":153.5,"y2":157.5,"c":"p"},
{"x":59,"x2":80,"y":153.5,"y2":153.5,"c":"p"},
{"x":80,"x2":80,"y":152.5,"y2":154.5,"c":"p"},
{"x":80,"x2":105,"y":152.5,"y2":152.5,"c":"p"},
{"x":105,"x2":105,"y":152,"y2":153,"c":"p"},
{"x":105,"x2":113,"y":152,"y2":152,"c":"p"},
{"x":105,"x2":113,"y":153,"y2":153,"c":"p"},
{"x":80,"x2":105,"y":154.5,"y2":154.5,"c":"p"},
{"x":105,"x2":105,"y":154,"y2":155,"c":"p"},
{"x":105,"x2":113,"y":154,"y2":154,"c":"p"},
{"x":105,"x2":113,"y":155,"y2":155,"c":"p"},
{"x":59,"x2":81,"y":157.5,"y2":157.5,"c":"p"},
{"x":81,"x2":81,"y":156.5,"y2":158.5,"c":"p"},
{"x":81,"x2":106,"y":156.5,"y2":156.5,"c":"p"},
{"x":106,"x2":106,"y":156,"y2":157,"c":"p"},
{"x":106,"x2":113,"y":156,"y2":156,"c":"p"},
{"x":106,"x2":113,"y":157,"y2":157,"c":"p"},
{"x":81,"x2":108.5,"y":158.5,"y2":158.5,"c":"p"},
{"x":108.5,"x2":108.5,"y":158,"y2":159,"c":"p"},
{"x":108.5,"x2":113,"y":158,"y2":158,"c":"p"},
{"x":108.5,"x2":113,"y":159,"y2":159,"c":"p"},
{"x":18.5,"x2":28.5,"y":176.81,"y2":176.81,"c":"p"},
{"x":28.5,"x2":28.5,"y":168.125,"y2":185.5,"c":"p"},
{"x":28.5,"x2":41,"y":168.125,"y2":168.125,"c":"p"},
{"x":41,"x2":41,"y":163.5,"y2":172.75,"c":"p"},
{"x":41,"x2":59,"y":163.5,"y2":163.5,"c":"p"},
{"x":59,"x2":59,"y":161.5,"y2":165.5,"c":"p"},
{"x":59,"x2":79,"y":161.5,"y2":161.5,"c":"p"},
{"x":79,"x2":79,"y":160.5,"y2":162.5,"c":"p"},
{"x":79,"x2":103.5,"y":160.5,"y2":160.5,"c":"p"},
{"x":103.5,"x2":103.5,"y":160,"y2":161,"c":"p"},
{"x":103.5,"x2":113,"y":160,"y2":160,"c":"p"},
{"x":103.5,"x2":113,"y":161,"y2":161,"c":"p"},
{"x":79,"x2":103.5,"y":162.5,"y2":162.5,"c":"p"},
{"x":103.5,"x2":103.5,"y":162,"y2":163,"c":"p"},
{"x":103.5,"x2":113,"y":162,"y2":162,"c":"p"},
{"x":103.5,"x2":113,"y":163,"y2":163,"c":"p"},
{"x":59,"x2":79,"y":165.5,"y2":165.5,"c":"p"},
{"x":79,"x2":79,"y":164.5,"y2":166.5,"c":"p"},
{"x":79,"x2":104.5,"y":164.5,"y2":164.5,"c":"p"},
{"x":104.5,"x2":104.5,"y":164,"y2":165,"c":"p"},
{"x":104.5,"x2":113,"y":164,"y2":164,"c":"t"},
{"x":104.5,"x2":113,"y":165,"y2":165,"c":"p"},
{"x":79,"x2":105,"y":166.5,"y2":166.5,"c":"p"},
{"x":105,"x2":105,"y":166,"y2":167,"c":"b"},
{"x":105,"x2":113,"y":166,"y2":166,"c":"p"},
{"x":105,"x2":113,"y":167,"y2":167,"c":"p"},
{"x":41,"x2":59,"y":172.75,"y2":172.75,"c":"p"},
{"x":59,"x2":59,"y":170,"y2":175.5,"c":"p"},
{"x":59,"x2":78,"y":170,"y2":170,"c":"p"},
{"x":78,"x2":78,"y":168.5,"y2":171.5,"c":"p"},
{"x":78,"x2":101,"y":168.5,"y2":168.5,"c":"p"},
{"x":101,"x2":101,"y":168,"y2":169,"c":"p"},
{"x":101,"x2":113,"y":168,"y2":168,"c":"p"},
{"x":101,"x2":113,"y":169,"y2":169,"c":"p"},
{"x":78,"x2":103.5,"y":171.5,"y2":171.5,"c":"p"},
{"x":103.5,"x2":103.5,"y":170.5,"y2":172.5,"c":"p"},
{"x":103.5,"x2":141,"y":170.5,"y2":170.5,"c":"r"},
{"x":141,"x2":141,"y":170,"y2":171,"c":"y"},
{"x":141,"x2":170,"y":170,"y2":170,"c":"r"},
{"x":141,"x2":170,"y":171,"y2":171,"c":"r"},
{"x":103.5,"x2":140,"y":172.5,"y2":172.5,"c":"r"},
{"x":140,"x2":140,"y":172,"y2":173,"c":"r"},
{"x":140,"x2":170,"y":172,"y2":172,"c":"r"},
{"x":140,"x2":170,"y":173,"y2":173,"c":"r"},
{"x":59,"x2":78,"y":175.5,"y2":175.5,"c":"p"},
{"x":78,"x2":78,"y":174.5,"y2":176.5,"c":"p"},
{"x":78,"x2":102.5,"y":174.5,"y2":174.5,"c":"p"},
{"x":102.5,"x2":102.5,"y":174,"y2":175,"c":"p"},
{"x":102.5,"x2":113,"y":174,"y2":174,"c":"p"},
{"x":102.5,"x2":113,"y":175,"y2":175,"c":"p"},
{"x":78,"x2":103.5,"y":176.5,"y2":176.5,"c":"p"},
{"x":103.5,"x2":103.5,"y":176,"y2":177,"c":"p"},
{"x":103.5,"x2":113,"y":176,"y2":176,"c":"p"},
{"x":103.5,"x2":113,"y":177,"y2":177,"c":"p"},
{"x":28.5,"x2":41,"y":185.5,"y2":185.5,"c":"p"},
{"x":41,"x2":41,"y":181.5,"y2":189.5,"c":"p"},
{"x":41,"x2":60,"y":181.5,"y2":181.5,"c":"p"},
{"x":60,"x2":60,"y":179.5,"y2":183.5,"c":"p"},
{"x":60,"x2":80,"y":179.5,"y2":179.5,"c":"p"},
{"x":80,"x2":80,"y":178.5,"y2":180.5,"c":"p"},
{"x":80,"x2":104.5,"y":178.5,"y2":178.5,"c":"p"},
{"x":104.5,"x2":104.5,"y":178,"y2":179,"c":"p"},
{"x":104.5,"x2":113,"y":178,"y2":178,"c":"p"},
{"x":104.5,"x2":113,"y":179,"y2":179,"c":"p"},
{"x":80,"x2":108.5,"y":180.5,"y2":180.5,"c":"p"},
{"x":108.5,"x2":108.5,"y":180,"y2":181,"c":"p"},
{"x":108.5,"x2":113,"y":180,"y2":180,"c":"p"},
{"x":108.5,"x2":113,"y":181,"y2":181,"c":"p"},
{"x":60,"x2":80,"y":183.5,"y2":183.5,"c":"p"},
{"x":80,"x2":80,"y":182.5,"y2":184.5,"c":"p"},
{"x":80,"x2":104.5,"y":182.5,"y2":182.5,"c":"p"},
{"x":104.5,"x2":104.5,"y":182,"y2":183,"c":"p"},
{"x":104.5,"x2":113,"y":182,"y2":182,"c":"p"},
{"x":104.5,"x2":113,"y":183,"y2":183,"c":"p"},
{"x":80,"x2":104.5,"y":184.5,"y2":184.5,"c":"p"},
{"x":104.5,"x2":104.5,"y":184,"y2":185,"c":"p"},
{"x":104.5,"x2":113,"y":184,"y2":184,"c":"p"},
{"x":104.5,"x2":113,"y":185,"y2":185,"c":"p"},
{"x":41,"x2":59,"y":189.5,"y2":189.5,"c":"p"},
{"x":59,"x2":59,"y":187.5,"y2":191.5,"c":"p"},
{"x":59,"x2":80,"y":187.5,"y2":187.5,"c":"p"},
{"x":80,"x2":80,"y":186.5,"y2":188.5,"c":"p"},
{"x":80,"x2":107,"y":186.5,"y2":186.5,"c":"p"},
{"x":107,"x2":107,"y":186,"y2":187,"c":"p"},
{"x":107,"x2":113,"y":186,"y2":186,"c":"p"},
{"x":107,"x2":113,"y":187,"y2":187,"c":"p"},
{"x":80,"x2":108,"y":188.5,"y2":188.5,"c":"p"},
{"x":108,"x2":108,"y":188,"y2":189,"c":"p"},
{"x":108,"x2":113,"y":188,"y2":188,"c":"p"},
{"x":108,"x2":113,"y":189,"y2":189,"c":"p"},
{"x":59,"x2":81,"y":191.5,"y2":191.5,"c":"p"},
{"x":81,"x2":81,"y":190.5,"y2":192.5,"c":"p"},
{"x":81,"x2":107.5,"y":190.5,"y2":190.5,"c":"p"},
{"x":107.5,"x2":107.5,"y":190,"y2":191,"c":"t"},
{"x":107.5,"x2":113,"y":190,"y2":190,"c":"p"},
{"x":107.5,"x2":113,"y":191,"y2":191,"c":"b"},
{"x":81,"x2":108,"y":192.5,"y2":192.5,"c":"p"},
{"x":108,"x2":108,"y":192,"y2":193,"c":"p"},
{"x":108,"x2":113,"y":192,"y2":192,"c":"p"},
{"x":108,"x2":113,"y":193,"y2":193,"c":"p"},
{"x":100,"x2":101.5,"y":10.5,"y2":10.5,"c":"b"},
{"x":108,"x2":109.5,"y":13,"y2":13,"c":"b"},
{"x":89.5,"x2":91,"y":16.5,"y2":16.5,"c":"lg"},
{"x":56.5,"x2":58,"y":27.5,"y2":27.5,"c":"lg"},
{"x":58,"x2":60,"y":27.5,"y2":27.5,"c":"b"},
{"x":80.5,"x2":81.5,"y":30.5,"y2":30.5,"c":"b"},
{"x":51.5,"x2":53,"y":35.5,"y2":35.5,"c":"lg"},
{"x":53,"x2":54.5,"y":35.5,"y2":35.5,"c":"b"},
{"x":95.5,"x2":97.5,"y":35,"y2":35,"c":"b"},
{"x":100.5,"x2":102,"y":42,"y2":42,"c":"b"},
{"x":101,"x2":105,"y":49.5,"y2":49.5,"c":"t"},
{"x":84.5,"x2":85.5,"y":49.5,"y2":49.5,"c":"b"},
{"x":60,"x2":62,"y":55.5,"y2":55.5,"c":"b"},
{"x":106,"x2":107.5,"y":56,"y2":56,"c":"b"},
{"x":158,"x2":161,"y":64,"y2":64,"c":"o"},
{"x":161,"x2":163,"y":64,"y2":64,"c":"y"},
{"x":163,"x2":164.5,"y":64,"y2":64,"c":"lg"},
{"x":164.5,"x2":170,"y":64,"y2":64,"c":"b"},
{"x":59,"x2":61.5,"y":67.5,"y2":67.5,"c":"b"},
{"x":61.5,"x2":70,"y":67.5,"y2":67.5,"c":"y"},
{"x":70,"x2":74,"y":67.5,"y2":67.5,"c":"yg"},
{"x":74,"x2":77,"y":67.5,"y2":67.5,"c":"lg"},
{"x":77,"x2":79.5,"y":67.5,"y2":67.5,"c":"b"},
{"x":79.5,"x2":82,"y":66.5,"y2":66.5,"c":"lg"},
{"x":82,"x2":84,"y":66.5,"y2":66.5,"c":"b"},
{"x":59,"x2":61.5,"y":71.5,"y2":71.5,"c":"b"},
{"x":61.5,"x2":68,"y":71.5,"y2":71.5,"c":"y"},
{"x":68,"x2":72,"y":71.5,"y2":71.5,"c":"yg"},
{"x":72,"x2":76,"y":71.5,"y2":71.5,"c":"lg"},
{"x":82,"x2":84,"y":70.5,"y2":70.5,"c":"lg"},
{"x":84,"x2":95,"y":70.5,"y2":70.5,"c":"y"},
{"x":95,"x2":98,"y":70.5,"y2":70.5,"c":"lg"},
{"x":83,"x2":89,"y":72.5,"y2":72.5,"c":"y"},
{"x":89,"x2":95,"y":72.5,"y2":72.5,"c":"o"},
{"x":95,"x2":99,"y":72.5,"y2":72.5,"c":"y"},
{"x":99,"x2":102,"y":72.5,"y2":72.5,"c":"lg"},
{"x":106,"x2":113,"y":72,"y2":72,"c":"y"},
{"x":106,"x2":113,"y":73,"y2":73,"c":"lg"},
{"x":59,"x2":61,"y":75.5,"y2":75.5,"c":"b"},
{"x":61,"x2":66,"y":75.5,"y2":75.5,"c":"y"},
{"x":66,"x2":70,"y":75.5,"y2":75.5,"c":"lg"},
{"x":70,"x2":74,"y":75.5,"y2":75.5,"c":"y"},
{"x":82,"x2":84,"y":74.5,"y2":74.5,"c":"lg"},
{"x":84,"x2":90,"y":74.5,"y2":74.5,"c":"y"},
{"x":59,"x2":61,"y":79.5,"y2":79.5,"c":"b"},
{"x":61,"x2":68,"y":79.5,"y2":79.5,"c":"y"},
{"x":68,"x2":72,"y":79.5,"y2":79.5,"c":"lg"},
{"x":72,"x2":74,"y":79.5,"y2":79.5,"c":"b"},
{"x":82,"x2":84,"y":78.5,"y2":78.5,"c":"lg"},
{"x":84,"x2":87,"y":78.5,"y2":78.5,"c":"y"},
{"x":107,"x2":113,"y":79,"y2":79,"c":"b"},
{"x":82,"x2":85,"y":80.5,"y2":80.5,"c":"lg"},
{"x":85,"x2":88,"y":80.5,"y2":80.5,"c":"y"},
{"x":88,"x2":90,"y":80.5,"y2":80.5,"c":"b"},
{"x":107,"x2":113,"y":80,"y2":80,"c":"b"},
{"x":92.5,"x2":94.5,"y":82.5,"y2":82.5,"c":"b"},
{"x":104.5,"x2":110,"y":86.5,"y2":86.5,"c":"p"},
{"x":110,"x2":112,"y":86.5,"y2":86.5,"c":"lg"},
{"x":112,"x2":117,"y":86.5,"y2":86.5,"c":"y"},
{"x":117,"x2":120,"y":86.5,"y2":86.5,"c":"o"},
{"x":104.5,"x2":109,"y":88.5,"y2":88.5,"c":"y"},
{"x":109,"x2":111,"y":88.5,"y2":88.5,"c":"lg"},
{"x":111,"x2":113,"y":88.5,"y2":88.5,"c":"b"},
{"x":113,"x2":117,"y":88.5,"y2":88.5,"c":"y"},
{"x":82.5,"x2":84.5,"y":90.5,"y2":90.5,"c":"b"},
{"x":69,"x2":72,"y":95.5,"y2":95.5,"c":"y"},
{"x":72,"x2":78,"y":95.5,"y2":95.5,"c":"lg"},
{"x":83,"x2":88,"y":93.5,"y2":93.5,"c":"o"},
{"x":88,"x2":93,"y":93.5,"y2":93.5,"c":"r"},
{"x":100,"x2":103,"y":92.5,"y2":92.5,"c":"b"},
{"x":103,"x2":105,"y":92.5,"y2":92.5,"c":"lg"},
{"x":112,"x2":115,"y":92.5,"y2":92.5,"c":"o"},
{"x":115,"x2":120,"y":92.5,"y2":92.5,"c":"r"},
{"x":124,"x2":126,"y":92.5,"y2":92.5,"c":"lg"},
{"x":126,"x2":128,"y":92.5,"y2":92.5,"c":"b"},
{"x":128,"x2":131,"y":92.5,"y2":92.5,"c":"p"},
{"x":134,"x2":136,"y":92,"y2":92,"c":"b"},
{"x":148,"x2":150,"y":92,"y2":92,"c":"lg"},
{"x":138,"x2":140,"y":93,"y2":93,"c":"b"},
{"x":110,"x2":113,"y":94.5,"y2":94.5,"c":"o"},
{"x":113,"x2":118,"y":94.5,"y2":94.5,"c":"r"},
{"x":125,"x2":128,"y":94.5,"y2":94.5,"c":"o"},
{"x":140,"x2":145,"y":94,"y2":94,"c":"o"},
{"x":145,"x2":148,"y":94,"y2":94,"c":"r"},
{"x":155,"x2":160,"y":94,"y2":94,"c":"lg"},
{"x":165,"x2":170,"y":94,"y2":94,"c":"g"},
{"x":150,"x2":152,"y":95,"y2":95,"c":"lg"},
{"x":152,"x2":155,"y":95,"y2":95,"c":"o"},
{"x":160,"x2":163,"y":95,"y2":95,"c":"lg"},
{"x":145,"x2":150,"y":97,"y2":97,"c":"o"},
{"x":150,"x2":155,"y":97,"y2":97,"c":"y"},
{"x":155,"x2":160,"y":97,"y2":97,"c":"lg"},
{"x":160,"x2":165,"y":97,"y2":97,"c":"y"},
{"x":165,"x2":170,"y":97,"y2":97,"c":"o"},
{"x":140,"x2":150,"y":98,"y2":98,"c":"r"},
{"x":150,"x2":160,"y":98,"y2":98,"c":"y"},
{"x":134,"x2":138,"y":99,"y2":99,"c":"lg"},
{"x":145,"x2":155,"y":99,"y2":99,"c":"p"},
{"x":160,"x2":170,"y":99,"y2":99,"c":"p"},
{"x":71,"x2":75,"y":103.5,"y2":103.5,"c":"t"},
{"x":75,"x2":78.5,"y":103.5,"y2":103.5,"c":"g"},
{"x":145,"x2":148,"y":102,"y2":102,"c":"o"},
{"x":148,"x2":150,"y":102,"y2":102,"c":"y"},
{"x":155,"x2":163,"y":102,"y2":102,"c":"p"},
{"x":163,"x2":165,"y":102,"y2":102,"c":"y"},
{"x":165,"x2":170,"y":102,"y2":102,"c":"p"},
{"x":150,"x2":160,"y":103,"y2":103,"c":"o"},
{"x":165,"x2":170,"y":103,"y2":103,"c":"o"},
{"x":78.5,"x2":82,"y":105.5,"y2":105.5,"c":"y"},
{"x":82,"x2":85,"y":105.5,"y2":105.5,"c":"o"},
{"x":118,"x2":122,"y":104.5,"y2":104.5,"c":"o"},
{"x":122,"x2":125,"y":104.5,"y2":104.5,"c":"y"},
{"x":160,"x2":162,"y":104,"y2":104,"c":"y"},
{"x":132,"x2":135,"y":105,"y2":105,"c":"y"},
{"x":145,"x2":155,"y":105,"y2":105,"c":"r"},
{"x":140,"x2":143,"y":106,"y2":106,"c":"lg"},
{"x":150,"x2":170,"y":106,"y2":106,"c":"p"},
{"x":145,"x2":150,"y":107,"y2":107,"c":"r"},
{"x":160,"x2":170,"y":107,"y2":107,"c":"lg"},
{"x":60,"x2":61.5,"y":109.5,"y2":109.5,"c":"b"},
{"x":107,"x2":113,"y":109,"y2":109,"c":"t"},
{"x":91,"x2":93,"y":112.5,"y2":112.5,"c":"b"},
{"x":98,"x2":103.5,"y":112.5,"y2":112.5,"c":"t"},
{"x":107,"x2":113,"y":113,"y2":113,"c":"b"},
{"x":82,"x2":84,"y":114.5,"y2":114.5,"c":"b"},
{"x":107,"x2":113,"y":115,"y2":115,"c":"lg"},
{"x":69,"x2":70.5,"y":117.5,"y2":117.5,"c":"b"},
{"x":82,"x2":85,"y":118.5,"y2":118.5,"c":"b"},
{"x":89,"x2":92,"y":118.5,"y2":118.5,"c":"b"},
{"x":103,"x2":106,"y":118,"y2":118,"c":"o"},
{"x":106.5,"x2":108,"y":136,"y2":136,"c":"b"},
{"x":105.5,"x2":107,"y":138,"y2":138,"c":"lg"},
{"x":80,"x2":81.5,"y":141.5,"y2":141.5,"c":"y"},
{"x":81.5,"x2":83,"y":141.5,"y2":141.5,"c":"o"},
{"x":80,"x2":81.5,"y":145.5,"y2":145.5,"c":"y"},
{"x":81.5,"x2":83,"y":145.5,"y2":145.5,"c":"o"},
{"x":158,"x2":161,"y":144,"y2":144,"c":"o"},
{"x":143,"x2":150,"y":146,"y2":146,"c":"y"},
{"x":150,"x2":152,"y":146,"y2":146,"c":"r"},
{"x":158,"x2":160,"y":146,"y2":146,"c":"r"},
{"x":160,"x2":165,"y":146,"y2":146,"c":"y"},
{"x":143,"x2":150,"y":147,"y2":147,"c":"o"},
{"x":158,"x2":165,"y":147,"y2":147,"c":"o"},
{"x":104,"x2":106,"y":148,"y2":148,"c":"b"},
{"x":55,"x2":58.5,"y":163.5,"y2":163.5,"c":"b"},
{"x":104.5,"x2":106,"y":164,"y2":164,"c":"lg"},
{"x":84,"x2":85.5,"y":166.5,"y2":166.5,"c":"b"},
{"x":103.5,"x2":105,"y":170.5,"y2":170.5,"c":"b"},
{"x":105,"x2":107,"y":170.5,"y2":170.5,"c":"o"},
{"x":141,"x2":143,"y":171,"y2":171,"c":"y"},
{"x":143,"x2":148,"y":171,"y2":171,"c":"o"},
{"x":160,"x2":170,"y":171,"y2":171,"c":"o"},
{"x":103.5,"x2":105,"y":172.5,"y2":172.5,"c":"y"},
{"x":105,"x2":106.5,"y":172.5,"y2":172.5,"c":"o"},
{"x":93.5,"x2":95,"y":174.5,"y2":174.5,"c":"t"},
{"x":86.5,"x2":88,"y":176.5,"y2":176.5,"c":"b"},
{"x":84,"x2":85.5,"y":180.5,"y2":180.5,"c":"b"},
{"x":95,"x2":96.5,"y":188.5,"y2":188.5,"c":"b"},
{"x":102,"x2":106,"y":188.5,"y2":188.5,"c":"b"},
{"x":65,"x2":66.5,"y":191.5,"y2":191.5,"c":"b"},
{"x":87,"x2":88.5,"y":190.5,"y2":190.5,"c":"lg"},
{"x":88.5,"x2":91.5,"y":190.5,"y2":190.5,"c":"t"}
]
},
"hconcat": [
{
"width": 66, "height": 1922,
"layer": [
{"data": {"name": "bands"}, "mark": {"type": "rect"},
 "encoding": {
  "x": {"datum": "bar", "type": "nominal", "scale": {"type": "band", "domain": ["bar", "label"], "paddingInner": 0.408, "paddingOuter": 1.382}, "axis": null},
  "y": {"field": "lo", "type": "quantitative", "scale": {"domain": [-1678.3, 6918.9], "nice": false, "zero": false}, "axis": null},
  "y2": {"field": "hi"},
  "color": {"field": "lo", "type": "ordinal", "scale": {"domain": [500,950,1400,1850,2300,2750,3200,3650,4100,4550], "range": ["#b41eff","#00649b","#33ff00","#d7ff00","#ffee00","#ffd200","#ffbe00","#ff8200","#ff5500","#ff2a00"]}, "legend": null}
 }},
{"data": {"name": "ticks"}, "mark": {"type": "text", "align": "left", "baseline": "middle", "dy": -2, "font": "DejaVu Sans Mono", "fontSize": 9.5, "fontWeight": "bold", "color": "#000000"},
 "encoding": {
  "x": {"datum": "label", "type": "nominal"},
  "y": {"field": "v", "type": "quantitative"},
  "text": {"field": "v", "type": "quantitative", "format": "d"}
 }}
]
},
{
"width": 310, "height": 1922,
"layer": [
{"data": {"name": "tree"}, "mark": {"type": "rule", "strokeWidth": 3, "strokeCap": "square"},
 "encoding": {
  "x": {"field": "x", "type": "quantitative", "scale": {"domain": [-30.5, 279.5], "nice": false, "zero": false}, "axis": null},
  "x2": {"field": "x2"},
  "y": {"field": "y", "type": "quantitative", "scale": {"domain": [-25.03, 206.62], "nice": false, "zero": false, "reverse": true}, "axis": null},
  "y2": {"field": "y2"},
  "color": {"field": "c", "type": "nominal", "scale": {"domain": ["p","b","t","g","lg","yg","y","gd","o","or","r"], "range": ["#b020ff","#2222ee","#00649b","#10b040","#33ff00","#c8ff00","#ffe600","#ffc400","#ff9000","#ff4a00","#ff0000"]}, "legend": null}
 }},
{"data": {"name": "labels"}, "mark": {"type": "text", "align": "left", "baseline": "middle", "dy": 4, "font": "DejaVu Sans Mono", "fontSize": 9.5, "fontWeight": "bold", "color": "#000000"},
 "encoding": {
  "x": {"datum": 180, "type": "quantitative"},
  "y": {"field": "slot", "type": "quantitative"},
  "text": {"field": "name", "type": "nominal"}
 }}
]
}
]
}
